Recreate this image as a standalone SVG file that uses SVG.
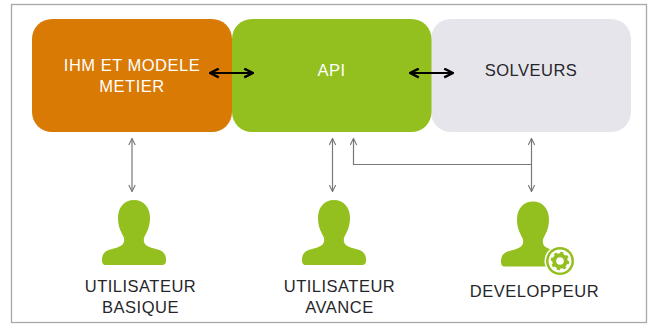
<svg xmlns="http://www.w3.org/2000/svg" width="649" height="324" viewBox="0 0 649 324">
<defs>
<style>
.lbl{font-family:"Liberation Sans",Arial,sans-serif;font-size:16.500px;text-anchor:middle;letter-spacing:.5px}
.dark{fill:#26262a}
.light{fill:#fff}
.thin{fill:none;stroke:#77777a;stroke-width:1.2}
.bold{fill:none;stroke:#000;stroke-width:2}
.person{fill:#93c01f}
</style>
<marker id="ah" viewBox="0 0 10 10" refX="9" refY="5" markerWidth="8" markerHeight="8" markerUnits="userSpaceOnUse" orient="auto-start-reverse"><path d="M1 1L9 5L1 9" fill="none" stroke="#77777a" stroke-width="1.400"/></marker>
<marker id="ahb" viewBox="0 0 10 10" refX="9" refY="5" markerWidth="11" markerHeight="11" markerUnits="userSpaceOnUse" orient="auto-start-reverse"><path d="M1 1L9 5L1 9" fill="none" stroke="#000" stroke-width="2.200"/></marker>
<path id="p" d="M0 0C9.500 0 16 7 16 18C16 28 12 33 10 38C9 44 12 46 18 48C26 50 32 51 32 60C32 63 31 65 28 65L-28 65C-31 65-32 63-32 60C-32 51-26 50-18 48C-12 46-9 44-10 38C-12 33-16 28-16 18C-16 7-9.500 0 0 0Z"/>
</defs>
<rect width="649" height="324" fill="#fff"/>
<rect id="frame" x="11.500" y="4.500" width="635" height="318" fill="#fff" stroke="#a8a8a8" stroke-width="1.300"/>
<g id="node-solveurs"><rect x="431" y="19" width="200" height="113" rx="20" fill="#e7e5ec"/><text class="lbl dark" x="531" y="76">SOLVEURS</text></g>
<g id="node-api"><rect x="232" y="19" width="199.500" height="113" rx="20" fill="#93c01f"/><text class="lbl light" x="331.500" y="76">API</text></g>
<g id="node-ihm"><rect x="32" y="19" width="200" height="113" rx="20" fill="#d97a05"/><text class="lbl light" x="132" y="70.500">IHM ET MODELE</text><text class="lbl light" x="132" y="92">METIER</text></g>
<g id="connectors">
<path class="bold" marker-start="url(#ahb)" marker-end="url(#ahb)" d="M210 73H253"/>
<path class="bold" marker-start="url(#ahb)" marker-end="url(#ahb)" d="M410 73H453"/>
<path class="thin" marker-start="url(#ah)" marker-end="url(#ah)" d="M132 138.500V191.500"/>
<path class="thin" marker-start="url(#ah)" marker-end="url(#ah)" d="M332.500 138.500V191.500"/>
<path class="thin" marker-start="url(#ah)" marker-end="url(#ah)" d="M531.500 138.500V191.500"/>
<path class="thin" marker-start="url(#ah)" d="M353.500 138.500V164.500H531.500"/>
</g>
<g id="node-basique"><use href="#p" class="person" x="134" y="200"/><text class="lbl dark" x="140.500" y="292">UTILISATEUR</text><text class="lbl dark" x="140.500" y="313">BASIQUE</text></g>
<g id="node-avance"><use href="#p" class="person" x="334" y="200"/><text class="lbl dark" x="339.500" y="292">UTILISATEUR</text><text class="lbl dark" x="339.500" y="313">AVANCE</text></g>
<g id="node-dev"><use href="#p" class="person" x="533" y="201.500"/>
<circle cx="560" cy="261" r="15.500" fill="#fff"/><circle cx="560" cy="261" r="14" fill="#93c01f"/><circle cx="560" cy="261" r="11.500" fill="#fff"/>
<circle cx="560" cy="261" r="5.800" fill="none" stroke="#93c01f" stroke-width="4"/>
<circle cx="560" cy="261" r="8" fill="none" stroke="#93c01f" stroke-width="2.500" stroke-dasharray="3.100 3.180"/>
<text class="lbl dark" x="534.500" y="297">DEVELOPPEUR</text></g>
</svg>
